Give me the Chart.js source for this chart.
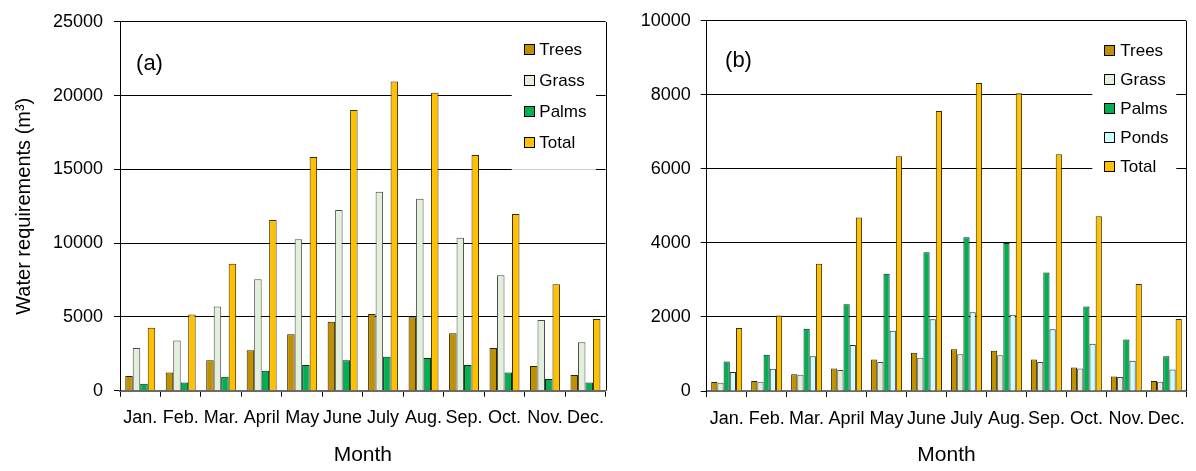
<!DOCTYPE html>
<html><head><meta charset="utf-8">
<script src="https://cdn.jsdelivr.net/npm/chart.js@4.4.1/dist/chart.umd.min.js"></script>
<style>
html,body{margin:0;padding:0;background:#fff;}
#wrap{position:relative;width:1196px;height:471px;overflow:hidden;}
#ca{position:absolute;left:0;top:0;}
#cb{position:absolute;left:630px;top:0;}
</style></head><body>
<div id="wrap"><canvas id="ca" width="630" height="471"></canvas><canvas id="cb" width="566" height="471"></canvas></div>
<script>
const months = ['Jan.','Feb.','Mar.','April','May','June','July','Aug.','Sep.','Oct.','Nov.','Dec.'];

// Panel (a)
const treesA = [1000, 1225, 2070, 2740, 3830, 4680, 5190, 4970, 3900, 2900, 1670, 1070];
const grassA = [2900, 3410, 5700, 7550, 10270, 12250, 13480, 13010, 10360, 7820, 4790, 3280];
const palmsA = [470, 560, 940, 1360, 1740, 2070, 2300, 2210, 1740, 1225, 800, 560];
const totalA = [4260, 5170, 8600, 11560, 15840, 19030, 20950, 20190, 15980, 11970, 7220, 4860];

// Panel (b)
const treesB = [240, 270, 455, 607, 850, 1035, 1125, 1090, 850, 633, 390, 270];
const grassB = [220, 250, 437, 570, 785, 900, 990, 963, 785, 607, 375, 250];
const palmsB = [800, 980, 1680, 2345, 3170, 3750, 4150, 4000, 3200, 2285, 1390, 937];
const pondsB = [510, 600, 937, 1240, 1630, 1935, 2125, 2060, 1670, 1275, 820, 580];
const totalB = [1700, 2040, 3440, 4690, 6340, 7565, 8320, 8045, 6395, 4720, 2890, 1945];

const yTitle = 'Water requirements (m³)';
const xTitle = 'Month';

const FONT = "'Liberation Sans', Arial, sans-serif";
Chart.defaults.font.family = FONT;
Chart.defaults.color = '#000';

const COL = {
  trees: {bg:'#BF9000', bd:'#2e2200'},
  grass: {bg:'#E2EFDA', bd:'#4a4a4a'},
  palms: {bg:'#00B050', bd:'#00261a'},
  ponds: {bg:'#CCFFFF', bd:'#2a2a2a'},
  total: {bg:'#FFC000', bd:'#3d2e00'}
};

function ds(label, data, c){
  return {label, data, backgroundColor:c.bg, borderColor:c.bd, borderWidth:1, borderSkipped:'start'};
}

const boxLegend = {
  id:'boxLegend',
  afterDatasetsDraw(chart, args, o){
    const {ctx, chartArea:a} = chart;
    ctx.save();
    ctx.fillStyle = '#fff';
    ctx.fillRect(a.right + o.boxLeft, a.top + o.boxTop, o.boxWidth, o.boxHeight);
    ctx.font = '17px ' + FONT;
    ctx.textBaseline = 'middle';
    ctx.textAlign = 'left';
    chart.data.datasets.forEach((d, i) => {
      const cy = Math.round(a.top + o.first + i * o.step);
      const mx = Math.round(a.right + o.markerX);
      ctx.fillStyle = d.backgroundColor;
      ctx.fillRect(mx, cy - 5, 11, 11);
      ctx.strokeStyle = '#000';
      ctx.lineWidth = 1;
      ctx.strokeRect(mx + 0.5, cy - 4.5, 10, 10);
      ctx.fillStyle = '#000';
      ctx.fillText(d.label, a.right + o.textX, cy + 1);
    });
    ctx.restore();
  }
};

const frame = {
  id:'frame',
  afterDraw(chart){
    const {ctx, chartArea:a} = chart;
    ctx.save();
    ctx.strokeStyle = '#000';
    ctx.lineWidth = 1;
    const x = Math.round(a.right) + 0.5;
    ctx.beginPath();
    ctx.moveTo(x, Math.round(a.top));
    ctx.lineTo(x, a.bottom);
    ctx.stroke();
    ctx.restore();
  }
};

const panelLabel = {
  id:'panelLabel',
  afterDraw(chart, args, o){
    const {ctx, chartArea:a} = chart;
    ctx.save();
    ctx.font = '22px ' + FONT;
    ctx.fillStyle = '#000';
    ctx.textAlign = 'center';
    ctx.textBaseline = 'middle';
    ctx.fillText(o.text, a.left + o.dx, a.top + o.dy);
    ctx.restore();
  }
};

function makeChart(canvas, datasets, cfg){
  return new Chart(canvas, {
    type:'bar',
    data:{labels:months, datasets},
    plugins:[boxLegend, frame, panelLabel],
    options:{
      responsive:false,
      animation:false,
      devicePixelRatio:1,
      datasets:{bar:{categoryPercentage:cfg.catPct, barPercentage:1}},
      layout:{padding:{left:0, top:cfg.top, right:cfg.right, bottom:0}},
      plugins:{
        legend:{display:false},
        tooltip:{enabled:false},
        boxLegend:cfg.legend,
        panelLabel:cfg.label
      },
      scales:{
        x:{
          grid:{offset:true, drawOnChartArea:false, drawTicks:true, tickLength:6, color:'#000', tickColor:'#000'},
          border:{color:'#6a6a6a', width:2},
          ticks:{color:'#000', font:{size:18}, padding:11, maxRotation:0, minRotation:0, autoSkip:false},
          title:{display:true, text:xTitle, color:'#000', font:{size:21}, padding:{top:0, bottom:3}},
          afterFit(s){ s.height = 471 - cfg.bottom; }
        },
        y:{
          min:0, max:cfg.max,
          ticks:{stepSize:cfg.step, color:'#000', font:{size:18}, padding:cfg.tickPad, callback:(v) => String(v)},
          grid:{color:'#000', lineWidth:1, tickLength:6, tickColor:'#000'},
          border:{color:'#000', width:1},
          title:{display:cfg.yTitle, text:yTitle, color:'#000', font:{size:20}, padding:{top:12.5, bottom:0}},
          afterFit(s){ s.width = cfg.yWidth; }
        }
      }
    }
  });
}

makeChart(document.getElementById('ca'), [
  ds('Trees', treesA, COL.trees),
  ds('Grass', grassA, COL.grass),
  ds('Palms', palmsA, COL.palms),
  ds('Total', totalA, COL.total)
], {
  catPct:0.74, top:16.7, right:24.3, bottom:390.7, max:25000, step:5000, tickPad:11,
  yTitle:true, yWidth:120,
  legend:{boxLeft:-94, boxTop:10, boxWidth:84.3, boxHeight:138, markerX:-82, textX:-66.4, first:27, step:31.2},
  label:{text:'(a)', dx:29.5, dy:42}
});

makeChart(document.getElementById('cb'), [
  ds('Trees', treesB, COL.trees),
  ds('Grass', grassB, COL.grass),
  ds('Palms', palmsB, COL.palms),
  ds('Ponds', pondsB, COL.ponds),
  ds('Total', totalB, COL.total)
], {
  catPct:0.775, top:18.3, right:4.3, bottom:391, max:10000, step:2000, tickPad:10,
  yTitle:false, yWidth:76.7,
  legend:{boxLeft:-94, boxTop:12, boxWidth:84, boxHeight:164, markerX:-82.4, textX:-66, first:28.7, step:29},
  label:{text:'(b)', dx:31.8, dy:40}
});
</script>
</body></html>
